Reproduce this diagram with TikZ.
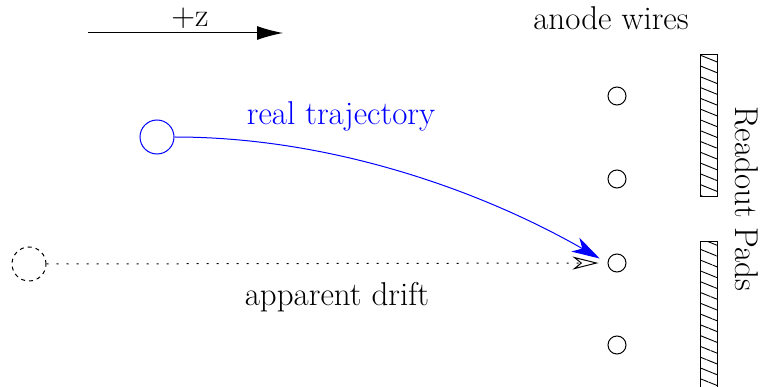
\documentclass[tikz,border=0pt]{standalone}
\usepackage{xcolor}
\usepackage{tikz}
\usetikzlibrary{arrows.meta, positioning, patterns.meta}

\begin{document}
\begin{tikzpicture}[
    x=1pt, y=-1pt,
    font=\fontsize{33}{38}\selectfont,
    line width=1pt,
    %% component styles
    wire/.style={draw, circle, minimum size=18pt, inner sep=0pt},
    cluster/.style={draw, circle, minimum size=34pt, inner sep=0pt},
    pad/.style={draw, pattern={Lines[angle=-22, distance=10pt, line width=0.9pt]}},
    %% arrow styles
    axis/.style={-{Latex[length=26pt, width=14pt]}},
    track/.style={blue, shorten >=9pt, -{Stealth[length=28pt, width=16pt, inset=8pt]}},
    drift/.style={dash pattern=on 2pt off 8pt, shorten >=9pt,
        -{Stealth[open, length=26pt, width=13pt, inset=8pt]}},
    %% label styles
    lbl/.style={inner sep=0pt}
]
    \useasboundingbox (0,0) rectangle (763,387);

    %% --- z direction ------------------------------------------
    \coordinate (zl) at (88,33);
    \coordinate (zr) at (283,33);
    \draw[axis] (zl) -- (zr);
    \node[lbl] (zlab) at (190,18) {+z};

    %% --- anode wires ------------------------------------------
    \node[lbl] (anode) at (611,18) {anode wires};
    \foreach \i/\y in {1/96, 2/179, 3/263, 4/345}
        \node[wire] (w\i) at (617,\y) {};

    %% --- readout pads -----------------------------------------
    \draw[pad] (700,55) rectangle (717,197);
    \draw[pad] (700,242) rectangle (717,392);
    \node[lbl, rotate=-90] (pads) at (747,199) {Readout Pads};

    %% --- real cluster and its trajectory ----------------------
    \node[cluster, blue] (real) at (157,137) {};
    \node[lbl, blue] (rtlab) at (341,116) {real trajectory};
    \draw[track] (real.east) .. controls (330,137) and (480,190) .. (w3.west);

    %% --- apparent position and drift --------------------------
    \node[cluster, dash pattern=on 4pt off 4pt] (appar) at (29,264) {};
    \draw[drift] (appar.east) -- (w3.west);
    \node[lbl] (adlab) at (337,297) {apparent drift};

\end{tikzpicture}
\end{document}
